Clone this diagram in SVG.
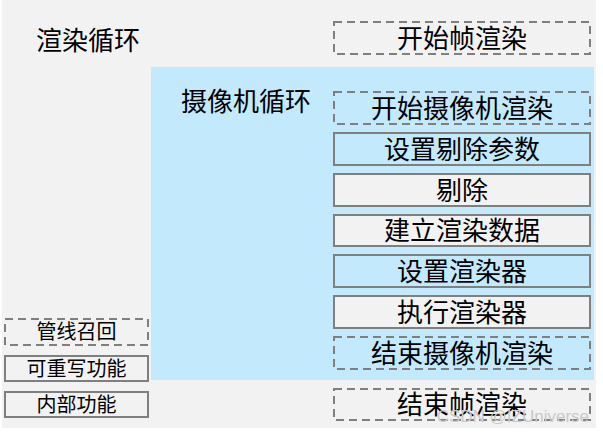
<svg xmlns="http://www.w3.org/2000/svg" width="603" height="432" viewBox="0 0 603 432">
<style>
text{font-family:"Noto Sans CJK SC","Noto Sans CJK JP",sans-serif;fill:#000;text-anchor:middle}
.big{font-size:26px}
.small{font-size:20px}
.dash{fill:none;stroke:#7f7f7f;stroke-width:2;stroke-dasharray:8,5}
.solid{stroke:#7f7f7f;stroke-width:2}
.g{fill:#f2f2f2}
.b{fill:#c3e9fd}
.wm{font-family:"Liberation Sans",Arial,sans-serif;font-size:17px;fill:#c9c9c9;text-anchor:end}
</style>
<rect x="2" y="0" width="594" height="428" fill="#f2f2f2"/>
<rect x="151" y="67" width="443" height="313" fill="#c3e9fd"/>
<text class="big" x="88" y="50">渲染循环</text>
<text class="big" x="246" y="111">摄像机循环</text>
<g id="n-begin-frame"><rect class="dash" x="334" y="22" width="256" height="32"/><text class="big" x="462" y="48">开始帧渲染</text></g>
<g id="n-begin-camera"><rect class="dash" x="334" y="92" width="256" height="32"/><text class="big" x="462" y="118">开始摄像机渲染</text></g>
<g id="n-cull-params"><rect class="solid b" x="334" y="133" width="256" height="32"/><text class="big" x="462" y="159">设置剔除参数</text></g>
<g id="n-cull"><rect class="solid g" x="334" y="174" width="256" height="32"/><text class="big" x="462" y="200">剔除</text></g>
<g id="n-render-data"><rect class="solid g" x="334" y="215" width="256" height="31"/><text class="big" x="462" y="240">建立渲染数据</text></g>
<g id="n-set-renderer"><rect class="solid b" x="334" y="255" width="256" height="32"/><text class="big" x="462" y="281">设置渲染器</text></g>
<g id="n-exec-renderer"><rect class="solid g" x="334" y="296" width="256" height="32"/><text class="big" x="462" y="322">执行渲染器</text></g>
<g id="n-end-camera"><rect class="dash" x="334" y="337" width="256" height="32"/><text class="big" x="462" y="363">结束摄像机渲染</text></g>
<g id="n-end-frame"><rect class="dash" x="334" y="389" width="256" height="31"/><text class="big" x="462" y="414">结束帧渲染</text></g>
<g id="legend-callback"><rect class="dash" x="5" y="319" width="143" height="26"/><text class="small" x="76.5" y="339">管线召回</text></g>
<g id="legend-override"><rect class="solid g" x="5" y="356" width="143" height="25"/><text class="small" x="76.5" y="376">可重写功能</text></g>
<g id="legend-internal"><rect class="solid g" x="5" y="392" width="143" height="25"/><text class="small" x="76.5" y="412">内部功能</text></g>
<g id="connectors"></g>
<text class="wm" x="589" y="422">CSDN @IZUniverse</text>
</svg>
